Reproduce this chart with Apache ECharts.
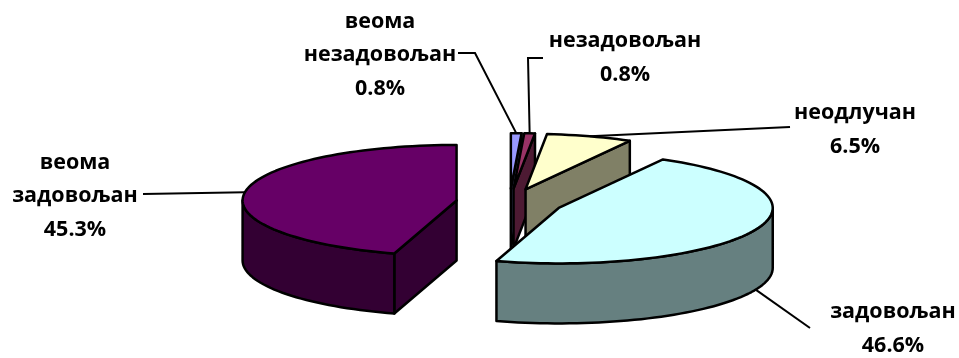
<!DOCTYPE html>
<html>
<head>
<meta charset="utf-8">
<style>html,body{margin:0;padding:0;background:#fff}#chart{width:959px;height:358px}</style>
<script src="https://cdn.jsdelivr.net/npm/echarts@6/dist/echarts.min.js"></script>
</head>
<body>
<div id="chart"></div>
<script>
// data
const categories = ['веома\nнезадовољан', 'незадовољан', 'неодлучан', 'задовољан', 'веома\nзадовољан'];
const shares = [0.8, 0.8, 6.5, 46.6, 45.3];
const shareLabels = ['0.8%', '0.8%', '6.5%', '46.6%', '45.3%'];

const topColors = ['#9999ff', '#993366', '#ffffcc', '#ccffff', '#660066'];
const sideColors = ['#4d4d80', '#4d1a33', '#808066', '#668080', '#330033'];

// pie layout
const cx = 509.5, cy = 202.5, rx = 214, ry = 55.5, depth = 60, explode = 0.25;
// label centre and the elbow of each leader line
const labelPos = [[380, 55], [625, 58], [855, 130], [893, 329], [75, 196]];
const leaderEnds = [
    [[475, 53], [458, 53]],
    [[528, 58], [543, 58]],
    [[790, 127]],
    [[810, 328]],
    [[143, 194]]
];
// slices are painted back to front
const drawOrder = [0, 1, 2, 4, 3];

const total = shares.reduce((a, b) => a + b, 0);
function sliceAngles(idx) {
    let start = 0;
    for (let i = 0; i < idx; i++) start += shares[i];
    return [start / total * 360, (start + shares[idx]) / total * 360];
}
function rad(d) { return d * Math.PI / 180; }
function apex(idx) {
    const a = sliceAngles(idx);
    const m = rad((a[0] + a[1]) / 2);
    return [cx + explode * rx * Math.sin(m), cy - explode * ry * Math.cos(m)];
}
function rim(idx, deg, dz) {
    const c = apex(idx);
    return [c[0] + rx * Math.sin(rad(deg)), c[1] - ry * Math.cos(rad(deg)) + (dz || 0)];
}
function arc(idx, from, to, dz) {
    const n = Math.max(2, Math.ceil((to - from) / 2));
    const pts = [];
    for (let i = 0; i <= n; i++) pts.push(rim(idx, from + (to - from) * i / n, dz));
    return pts;
}

function polygon(points, fill) {
    return {
        type: 'polygon',
        shape: { points: points },
        style: { fill: fill, stroke: '#000', lineWidth: 2.5, lineJoin: 'round' }
    };
}

function renderSlice(params, api) {
    const idx = drawOrder[params.dataIndex];
    const a = sliceAngles(idx);
    const c = apex(idx);
    const cLow = [c[0], c[1] + depth];
    const kids = [];
    // radial walls, only the ones facing the viewer
    if (Math.sin(rad(a[1])) > 0) {
        kids.push(polygon([c, rim(idx, a[1]), rim(idx, a[1], depth), cLow], sideColors[idx]));
    }
    if (Math.sin(rad(a[0])) < 0) {
        kids.push(polygon([c, rim(idx, a[0]), rim(idx, a[0], depth), cLow], sideColors[idx]));
    }
    // outer wall, front half of the rim
    const from = Math.max(a[0], 90), to = Math.min(a[1], 270);
    if (to > from) {
        kids.push(polygon(arc(idx, from, to).concat(arc(idx, from, to, depth).reverse()), sideColors[idx]));
    }
    // top face
    kids.push(polygon([c].concat(arc(idx, a[0], a[1])), topColors[idx]));
    return { type: 'group', children: kids };
}

function renderLabel(params, api) {
    const idx = params.dataIndex;
    const a = sliceAngles(idx);
    const mid = (a[0] + a[1]) / 2;
    // front slices hook the leader to the bottom of the wall
    const start = rim(idx, mid, Math.cos(rad(mid)) < -0.2 ? depth : 0);
    return {
        type: 'group',
        children: [
            {
                type: 'polyline',
                shape: { points: [start].concat(leaderEnds[idx]) },
                style: { fill: 'none', stroke: '#000', lineWidth: 2 }
            },
            {
                type: 'text',
                x: labelPos[idx][0],
                y: labelPos[idx][1],
                style: {
                    text: categories[idx] + '\n' + shareLabels[idx],
                    align: 'center',
                    verticalAlign: 'middle',
                    fill: '#000',
                    font: 'bold 21.5px "Open Sans"',
                    lineHeight: 33.5
                }
            }
        ]
    };
}

const myChart = echarts.init(document.getElementById('chart'), null, { renderer: 'canvas' });
myChart.setOption({
    backgroundColor: '#fff',
    animation: false,
    series: [
        {
            name: 'slices',
            type: 'custom',
            coordinateSystem: 'none',
            renderItem: renderSlice,
            silent: true,
            z: 2,
            data: drawOrder.map(i => shares[i])
        },
        {
            name: 'labels',
            type: 'custom',
            coordinateSystem: 'none',
            renderItem: renderLabel,
            silent: true,
            z: 3,
            data: shares
        }
    ]
});
</script>
</body>
</html>
